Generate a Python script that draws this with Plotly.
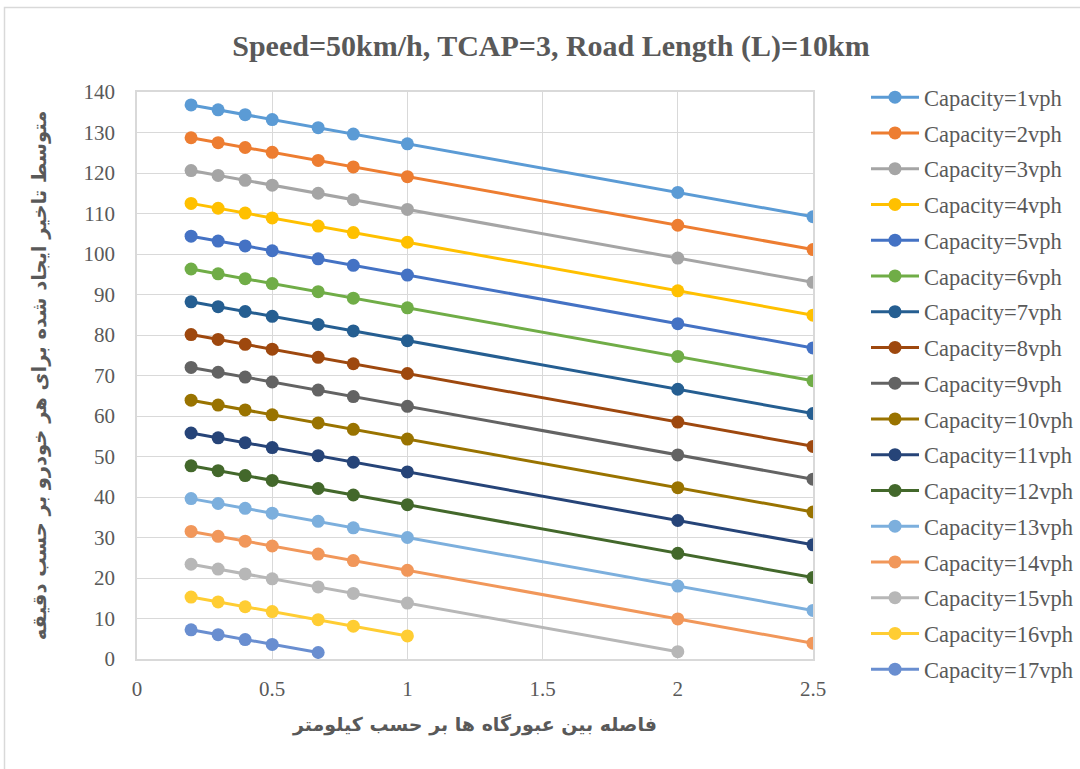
import plotly.graph_objects as go

distance_km = [0.2, 0.3, 0.4, 0.5, 0.67, 0.8, 1, 2, 2.5]

capacity_labels = [f"Capacity={k}vph" for k in range(1, 18)]

cap1 = [136.8, 135.6, 134.4, 133.2, 131.2, 129.6, 127.2, 115.2, 109.2]
cap2 = [128.7, 127.5, 126.3, 125.1, 123.1, 121.5, 119.1, 107.1, 101.1]
cap3 = [120.6, 119.4, 118.2, 117.0, 115.0, 113.4, 111.0, 99.0, 93.0]
cap4 = [112.5, 111.3, 110.1, 108.9, 106.9, 105.3, 102.9, 90.9, 84.9]
cap5 = [104.4, 103.2, 102.0, 100.8, 98.8, 97.2, 94.8, 82.8, 76.8]
cap6 = [96.3, 95.1, 93.9, 92.7, 90.7, 89.1, 86.7, 74.7, 68.7]
cap7 = [88.2, 87.0, 85.8, 84.6, 82.6, 81.0, 78.6, 66.6, 60.6]
cap8 = [80.1, 78.9, 77.7, 76.5, 74.5, 72.9, 70.5, 58.5, 52.5]
cap9 = [72.0, 70.8, 69.6, 68.4, 66.4, 64.8, 62.4, 50.4, 44.4]
cap10 = [63.9, 62.7, 61.5, 60.3, 58.3, 56.7, 54.3, 42.3, 36.3]
cap11 = [55.8, 54.6, 53.4, 52.2, 50.2, 48.6, 46.2, 34.2, 28.2]
cap12 = [47.7, 46.5, 45.3, 44.1, 42.1, 40.5, 38.1, 26.1, 20.1]
cap13 = [39.6, 38.4, 37.2, 36.0, 34.0, 32.4, 30.0, 18.0, 12.0]
cap14 = [31.5, 30.3, 29.1, 27.9, 25.9, 24.3, 21.9, 9.9, 3.9]
cap15 = [23.4, 22.2, 21.0, 19.8, 17.8, 16.2, 13.8, 1.8]
cap16 = [15.3, 14.1, 12.9, 11.7, 9.7, 8.1, 5.7]
cap17 = [7.2, 6.0, 4.8, 3.6, 1.6]

series = [cap1, cap2, cap3, cap4, cap5, cap6, cap7, cap8, cap9, cap10,
          cap11, cap12, cap13, cap14, cap15, cap16, cap17]

colors = ["#5B9BD5", "#ED7D31", "#A5A5A5", "#FFC000", "#4472C4", "#70AD47",
          "#255E91", "#9E480E", "#636363", "#997300", "#264478", "#43682B",
          "#7CAFDD", "#F1975A", "#B7B7B7", "#FFCD33", "#698ED0"]

title_text = "Speed=50km/h, TCAP=3, Road Length (L)=10km"
x_title = "فاصله بین عبورگاه ها بر حسب کیلومتر"
y_title = "متوسط تاخیر ایجاد شده برای هر خودرو بر حسب دقیقه"

W, H = 1080, 769
L, R, T, B = 137, 267, 92, 110
pw, ph = W - L - R, H - T - B

fig = go.Figure()
for i, (vals, name, col) in enumerate(zip(series, capacity_labels, colors)):
    fig.add_trace(go.Scatter(
        x=distance_km[:len(vals)], y=vals, name=name, mode="lines+markers",
        line=dict(color=col, width=3),
        marker=dict(color=col, size=13),
        legendgroup=f"g{i}",
    ))

def px_x(p):
    return (p - L) / pw

def px_y(p):
    return (H - B - p) / ph

grey = "#595959"
fig.update_layout(
    width=W, height=H,
    margin=dict(l=L, r=R, t=T, b=B, autoexpand=False),
    paper_bgcolor="white", plot_bgcolor="white",
    title=dict(text=title_text, x=px_x(551), xref="paper", xanchor="center",
               y=1 - 45 / H, yanchor="middle",
               font=dict(family="Liberation Serif", size=30, color=grey, weight="bold")),
    font=dict(family="Liberation Serif", color=grey),
    legend=dict(x=px_x(866), xanchor="left", y=px_y(76), yanchor="top",
                font=dict(family="Liberation Serif", size=22.5, color=grey),
                tracegroupgap=3.5, bgcolor="rgba(0,0,0,0)", itemwidth=48,
                maxheight=760),
    xaxis=dict(range=[0, 2.5], dtick=0.5, tick0=0, showgrid=True, gridcolor="#D9D9D9",
               gridwidth=1, showline=True, linecolor="#D9D9D9", linewidth=1.5, mirror=True,
               zeroline=False, ticks="outside", ticklen=10, tickcolor="rgba(0,0,0,0)",
               tickfont=dict(family="Liberation Serif", size=21, color=grey),
               title=dict(text=x_title, standoff=18,
                          font=dict(family="DejaVu Sans", size=19, color=grey, weight="bold"))),
    yaxis=dict(range=[0, 140], dtick=10, showgrid=True, gridcolor="#D9D9D9", gridwidth=1,
               showline=True, linecolor="#D9D9D9", linewidth=1.5, mirror=True,
               zeroline=False, ticks="outside", ticklen=16, tickcolor="rgba(0,0,0,0)",
               tickfont=dict(family="Liberation Serif", size=21, color=grey),
               title=dict(text=y_title, standoff=32,
                          font=dict(family="DejaVu Sans", size=19.5, color=grey, weight="bold"))),
    shapes=[dict(type="rect", xref="paper", yref="paper",
                 x0=px_x(4.5), x1=px_x(1090), y0=px_y(780), y1=px_y(7.5),
                 line=dict(color="#D9D9D9", width=1.5), fillcolor="rgba(0,0,0,0)", layer="below")],
)

fig.write_html("out.html", config={"displayModeBar": False},
               post_script="document.body.style.margin='0';document.body.style.overflow='hidden';")
